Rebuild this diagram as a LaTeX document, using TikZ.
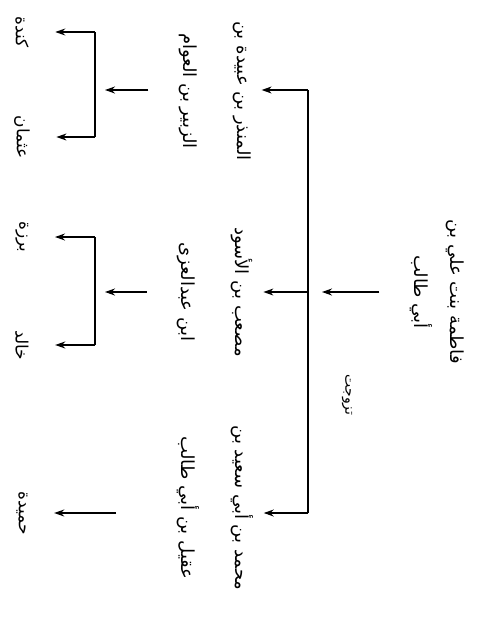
\documentclass[tikz,border=0pt]{standalone}
\usepackage{fontspec}
\newfontfamily\arabicfont[Script=Arabic]{DejaVu Sans}
\TeXXeTstate=1
\usetikzlibrary{arrows.meta}

\tikzset{every picture/.style={line width=1.2pt},
  person/.style={rotate=-90, inner sep=0pt, align=center, font=\arabicfont\fontsize{18}{54}\selectfont},
  child/.style={rotate=-90, inner sep=0pt, font=\arabicfont\fontsize{17}{20}\selectfont},
  arr/.style={-{Stealth[length=10pt,width=7pt]}}}

\begin{document}
\begin{tikzpicture}[x=1pt,y=1pt,yscale=-1,xscale=1]
\useasboundingbox (0,0) rectangle (485,630);

% the mother
\node[person, font=\arabicfont\fontsize{18}{36}\selectfont] (fatima) at (437,292) {\beginR فاطمة بنت علي بن\endR\\\beginR أبي طالب\endR};
\node[child, font=\arabicfont\fontsize{14}{18}\selectfont] (married) at (347,395) {\beginR تزوجت\endR};

% husbands
\node[person] (mundhir) at (215,91) {\beginR المنذر بن عبيدة بن\endR\\\beginR الزبير بن العوام\endR};
\node[person] (musab) at (215,292) {\beginR مصعب بن الأسود\endR\\\beginR ابن عبدالعزى\endR};
\node[person] (muhammad) at (215,508) {\beginR محمد بن أبي سعيد بن\endR\\\beginR عقيل بن أبي طالب\endR};

% children
\node[child] (kinda) at (22,32) {\beginR كندة\endR};
\node[child] (uthman) at (22,137) {\beginR عثمان\endR};
\node[child] (barza) at (22,237) {\beginR برزة\endR};
\node[child] (khalid) at (22,345) {\beginR خالد\endR};
\node[child] (hamida) at (22,513) {\beginR حميدة\endR};

% junctions
\coordinate (trunk) at (308,292);
\coordinate (fork1) at (95,90);
\coordinate (fork2) at (95,292);

% mother to husbands
\draw[arr, shorten <=30pt, shorten >=14pt] (fatima.south) -- (trunk);
\draw (trunk |- fork1) -- (trunk |- hamida);
\draw[arr, shorten >=10pt] (trunk |- fork1) -- (fork1 -| mundhir.north);
\draw[arr, shorten >=10pt] (trunk) -- (musab.north);
\draw[arr, shorten >=10pt] (trunk |- hamida) -- (hamida -| muhammad.north);

% husbands to children
\draw[arr, shorten <=30pt, shorten >=10pt] (fork1 -| mundhir.south) -- (fork1);
\draw (fork1 |- kinda) -- (fork1 |- uthman);
\draw[arr, shorten >=26pt] (fork1 |- kinda) -- (kinda.north);
\draw[arr, shorten >=26pt] (fork1 |- uthman) -- (uthman.north);

\draw[arr, shorten <=30pt, shorten >=10pt] (musab.south) -- (fork2);
\draw (fork2 |- barza) -- (fork2 |- khalid);
\draw[arr, shorten >=26pt] (fork2 |- barza) -- (barza.north);
\draw[arr, shorten >=26pt] (fork2 |- khalid) -- (khalid.north);

\draw[arr, shorten <=60pt, shorten >=26pt] (hamida -| muhammad.south) -- (hamida.north);

\end{tikzpicture}
\end{document}
